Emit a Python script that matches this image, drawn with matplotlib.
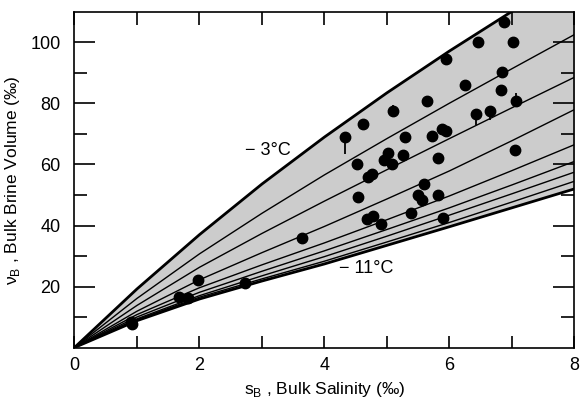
import matplotlib.pyplot as plt

plt.rcParams["font.family"] = ["Liberation Sans", "DejaVu Sans"]
plt.rcParams["mathtext.fontset"] = "custom"
plt.rcParams["mathtext.rm"] = "Liberation Sans"

# isotherm curves: bulk brine volume (per mille) read at these salinities
sal_grid = [0, 1, 2, 3, 4, 5, 6, 7, 8]
vol_m3 = [0, 19.2, 37.0, 53.6, 69.0, 83.5, 97.2, 110.2, 122.8]
vol_m4 = [0, 16.1, 30.7, 44.0, 56.6, 68.5, 80.1, 91.4, 102.6]
vol_m5 = [0, 13.8, 26.3, 37.4, 48.0, 58.3, 68.5, 78.6, 88.6]
vol_m6 = [0, 11.9, 22.2, 31.1, 39.7, 48.7, 57.9, 67.8, 78.0]
vol_m7 = [0, 10.8, 19.6, 27.1, 34.3, 41.9, 49.7, 58.0, 66.5]
vol_m8 = [0, 10.0, 18.1, 25.0, 31.7, 38.7, 45.8, 53.3, 61.0]
vol_m9 = [0, 9.4, 17.0, 23.5, 29.8, 36.5, 43.4, 50.4, 57.5]
vol_m10 = [0, 9.1, 16.5, 22.5, 28.3, 34.6, 41.0, 47.7, 54.5]
vol_m11 = [0, 8.8, 15.9, 21.8, 27.4, 33.5, 39.6, 45.8, 52.0]

# measured samples
sal_obs = [0.90, 0.92, 1.67, 1.81, 1.97, 2.73, 3.64,
           4.33, 4.52, 4.54, 4.61, 4.68, 4.69, 4.76, 4.77, 4.90,
           4.96, 5.01, 5.08, 5.09, 5.26, 5.29, 5.39, 5.50, 5.56,
           5.59, 5.64, 5.72, 5.81, 5.81, 5.88, 5.94, 5.89, 5.94,
           6.25, 6.42, 6.45, 6.65, 6.82, 6.84, 6.87, 7.02, 7.05, 7.07]
vol_obs = [8.4, 7.7, 16.6, 16.1, 22.1, 21.0, 36.0,
           68.9, 60.0, 49.3, 73.3, 42.0, 55.9, 57.0, 43.1, 40.5,
           61.5, 63.7, 60.0, 77.4, 63.2, 68.9, 44.2, 49.9, 48.2,
           53.5, 80.8, 69.4, 62.2, 50.0, 71.6, 71.1, 42.5, 94.6,
           86.2, 76.5, 100.1, 77.7, 84.3, 90.4, 106.7, 100.1, 64.8, 80.8]

# error bars: salinity, from, to
bar_sal = [4.33, 5.09, 6.42, 6.65, 7.07]
bar_from = [68.9, 77.4, 76.5, 77.7, 80.8]
bar_to = [63.5, 79.5, 72.8, 74.5, 83.5]

fig = plt.figure(figsize=(5.82, 4.01), dpi=100)
ax = fig.add_axes([0.128, 0.1334, 0.859, 0.8367])

ax.fill_between(sal_grid, vol_m11, vol_m3, color="#cccccc", lw=0)
for v in [vol_m4, vol_m5, vol_m6, vol_m7, vol_m8, vol_m9, vol_m10]:
    ax.plot(sal_grid, v, color="black", lw=1.0)
ax.plot(sal_grid, vol_m3, color="black", lw=2.0)
ax.plot(sal_grid, vol_m11, color="black", lw=2.0)

ax.vlines(bar_sal, bar_from, bar_to, color="black", lw=1.3)
ax.plot(sal_obs, vol_obs, "o", color="black", ms=7.5, mec="black")

ax.text(3.1, 64.5, "\u2212 3\u00b0C", ha="center", va="center", fontsize=13)
ax.text(4.66, 26, "\u2212 11\u00b0C", ha="center", va="center", fontsize=13)

ax.set_xlim(0, 8)
ax.set_ylim(0, 110)
ax.set_xticks([0, 2, 4, 6, 8])
ax.set_xticks([1, 3, 5, 7], minor=True)
ax.set_yticks([20, 40, 60, 80, 100])
ax.set_yticks([10, 30, 50, 70, 90], minor=True)
ax.tick_params(axis="x", which="both", direction="in", top=True, length=9, width=1.2, labelsize=13, pad=7)
ax.tick_params(axis="y", which="major", direction="in", right=True, length=15, width=1.2, labelsize=13, pad=10)
ax.tick_params(axis="y", which="minor", direction="in", right=True, length=9.5, width=1.2)
for s in ax.spines.values():
    s.set_linewidth(1.2)

ax.set_xlabel("s$_\\mathregular{B}$ , Bulk Salinity (\u2030)", fontsize=12.5, labelpad=4)
ax.set_ylabel("\u03bd$_\\mathregular{B}$ , Bulk Brine Volume (\u2030)", fontsize=12.5, labelpad=6)

fig.savefig("out.png", dpi=100)
plt.close(fig)
